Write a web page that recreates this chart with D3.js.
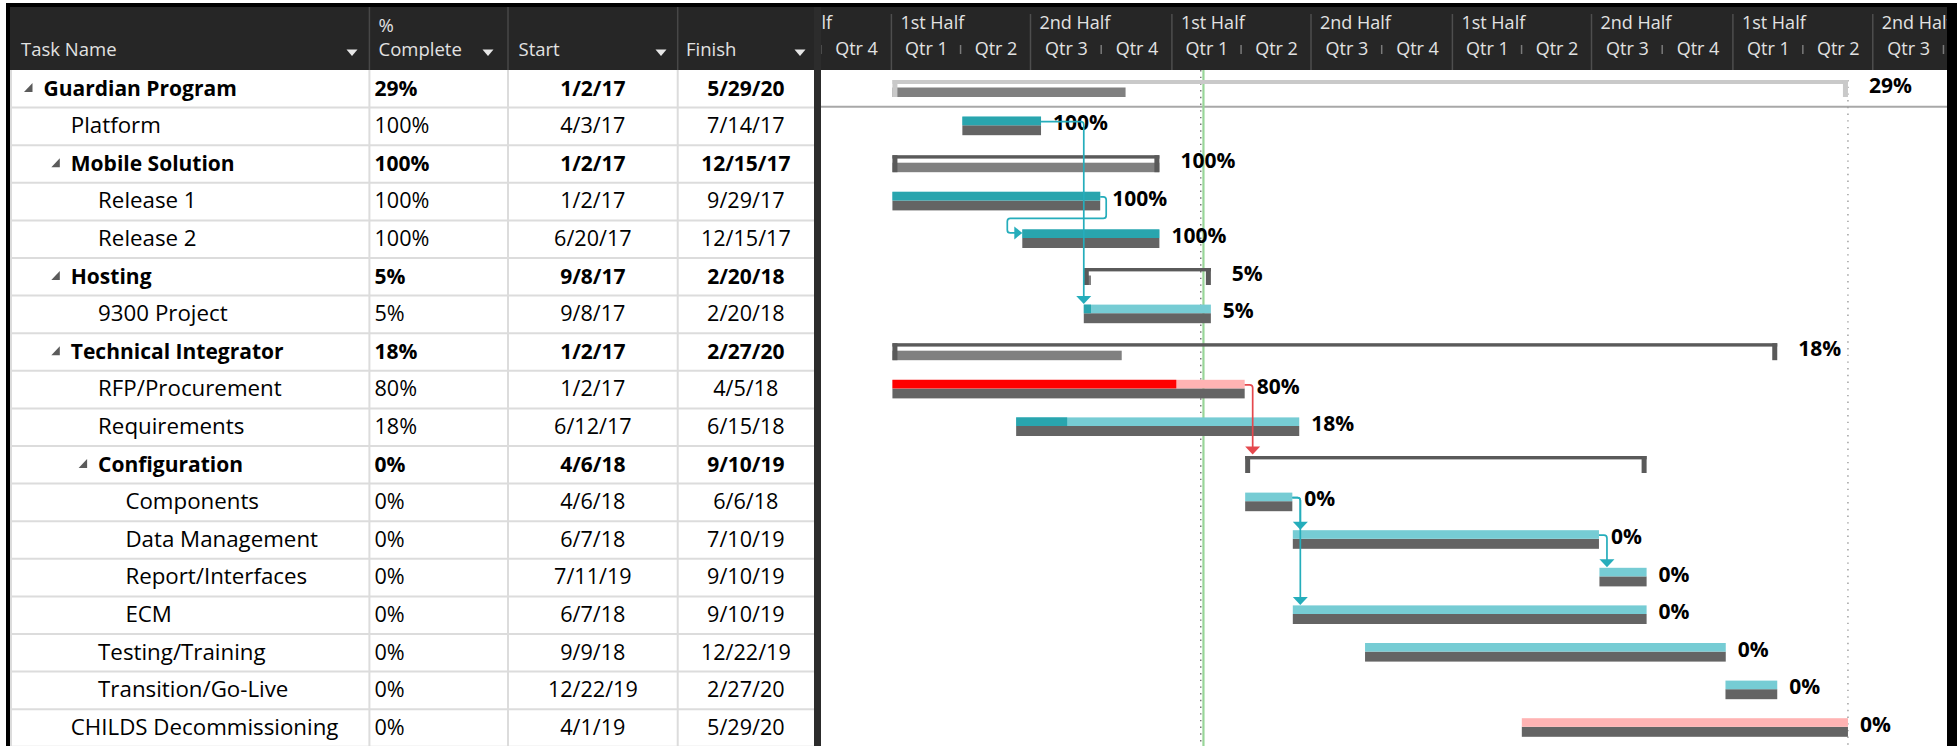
<!DOCTYPE html>
<html>
<head>
<meta charset="utf-8">
<script src="https://cdn.jsdelivr.net/npm/d3@7"></script>
<style>
  body { margin: 0; background: #fff; }
  svg { display: block; font-family: "Open Sans", sans-serif; }
</style>
</head>
<body>
<script>
    // task table
    var taskNames = ["Guardian Program", "Platform", "Mobile Solution", "Release 1", "Release 2",
        "Hosting", "9300 Project", "Technical Integrator", "RFP/Procurement", "Requirements",
        "Configuration", "Components", "Data Management", "Report/Interfaces", "ECM",
        "Testing/Training", "Transition/Go-Live", "CHILDS Decommissioning"];
    var taskLevels = [0, 1, 1, 2, 2, 1, 2, 1, 2, 2, 2, 3, 3, 3, 3, 2, 2, 1];
    var pctComplete = [29, 100, 100, 100, 100, 5, 5, 18, 80, 18, 0, 0, 0, 0, 0, 0, 0, 0];
    var startDates = ["1/2/17", "4/3/17", "1/2/17", "1/2/17", "6/20/17", "9/8/17", "9/8/17", "1/2/17",
        "1/2/17", "6/12/17", "4/6/18", "4/6/18", "6/7/18", "7/11/19", "6/7/18", "9/9/18", "12/22/19", "4/1/19"];
    var finishDates = ["5/29/20", "7/14/17", "12/15/17", "9/29/17", "12/15/17", "2/20/18", "2/20/18", "2/27/20",
        "4/5/18", "6/15/18", "9/10/19", "6/6/18", "7/10/19", "9/10/19", "9/10/19", "12/22/19", "2/27/20", "5/29/20"];
    // how far the progress bar reaches, null = not started
    var progressDates = ["11/1/17", "7/14/17", "12/15/17", "9/29/17", "12/15/17", "9/17/17", "9/17/17", "10/27/17",
        "1/6/18", "8/17/17", null, null, null, null, null, null, null, null];
    var criticalTasks = [8, 17];
    var links = [[1, 6], [3, 4], [8, 10], [11, 12], [11, 14], [12, 13]];
    var currentDate = "2/9/18";

    // timescale labels
    var halfLabels = ["1st Half", "2nd Half"];
    var quarterLabels = ["Qtr 1", "Qtr 2", "Qtr 3", "Qtr 4"];
    var columnTitles = [["Task Name"], ["%", "Complete"], ["Start"], ["Finish"]];

    var W = 1957, H = 746;
    var headerTop = 7, headerBottom = 70, rowH = 37.6;
    var colX = [10, 369.4, 508, 677.7, 814];
    var ganttLeft = 821, ganttRight = 1947;

    var parse = d3.timeParse("%m/%d/%y");
    var startOf = function(s) { return d3.timeHour.offset(parse(s), 8); };
    var endOf = function(s) { return d3.timeHour.offset(parse(s), 17); };
    var rowTop = function(i) { return headerBottom + i * rowH; };
    var isSummary = function(i) { return i + 1 < taskLevels.length && taskLevels[i + 1] > taskLevels[i]; };

    var x = d3.scaleTime()
        .domain([new Date(2017, 0, 1), new Date(2020, 0, 1)])
        .range([891.4, 1732.9]);

    var svg = d3.select("body").append("svg")
        .attr("width", W)
        .attr("height", H);

    // frame
    svg.append("rect").attr("x", 6).attr("y", 3).attr("width", W - 6).attr("height", H - 3).attr("fill", "#000");
    svg.append("rect").attr("x", 10).attr("y", headerTop).attr("width", ganttRight - 10).attr("height", H).attr("fill", "#fff");
    svg.append("rect").attr("x", 10).attr("y", headerTop).attr("width", ganttRight - 10)
        .attr("height", headerBottom - headerTop).attr("fill", "#262626");

    // ---------- table ----------
    var table = svg.append("g");

    // header column lines
    table.selectAll(".hsep")
        .data(colX.slice(1, 4))
        .enter().append("line")
        .attr("x1", function(d) { return d; })
        .attr("x2", function(d) { return d; })
        .attr("y1", headerTop)
        .attr("y2", headerBottom)
        .attr("stroke", "#474747")
        .attr("stroke-width", 1.5);

    var headX = [21, 378.5, 518.5, 686];
    var arrowX = [352, 488, 661, 800];
    columnTitles.forEach(function(lines, c) {
        lines.forEach(function(t, k) {
            table.append("text")
                .attr("x", headX[c])
                .attr("y", lines.length === 2 && k === 0 ? 31.5 : 56)
                .attr("font-size", 18.5)
                .attr("fill", "#e2e2e2")
                .text(t);
        });
        table.append("path")
            .attr("d", "M" + (arrowX[c] - 5.5) + ",49.5 h11 l-5.5,6.5 z")
            .attr("fill", "#e6e6e6");
    });

    // body grid
    table.selectAll(".rowline")
        .data(taskNames)
        .enter().append("line")
        .attr("x1", 10)
        .attr("x2", colX[4])
        .attr("y1", function(d, i) { return rowTop(i + 1); })
        .attr("y2", function(d, i) { return rowTop(i + 1); })
        .attr("stroke", "#dcdcdc")
        .attr("stroke-width", 2);

    table.selectAll(".colline")
        .data([11].concat(colX.slice(1, 4)))
        .enter().append("line")
        .attr("x1", function(d) { return d; })
        .attr("x2", function(d) { return d; })
        .attr("y1", headerBottom)
        .attr("y2", H)
        .attr("stroke", "#dcdcdc")
        .attr("stroke-width", 2);

    var rows = table.selectAll(".row")
        .data(taskNames)
        .enter().append("g")
        .attr("transform", function(d, i) { return "translate(0," + rowTop(i) + ")"; })
        .attr("font-size", function(d, i) { return isSummary(i) ? 21 : 21.6; })
        .attr("font-weight", function(d, i) { return isSummary(i) ? "bold" : "normal"; })
        .attr("fill", "#000");

    var nameX = function(i) { return 43.5 + 27.3 * taskLevels[i]; };

    rows.filter(function(d, i) { return isSummary(i); })
        .append("path")
        .attr("d", function(d) {
            var idx = taskNames.indexOf(d);
            var tx = nameX(idx) - 11;
            return "M" + tx + ",13 V22 H" + (tx - 8.5) + " Z";
        })
        .attr("fill", "#5b5b5b");

    rows.append("text")
        .attr("x", function(d, i) { return nameX(i); })
        .attr("y", 25.7)
        .attr("font-size", function(d, i) { return isSummary(i) ? 21 : 22.3; })
        .text(function(d) { return d; });

    rows.append("text")
        .attr("x", 374.5)
        .attr("y", 25.7)
        .text(function(d, i) { return pctComplete[i] + "%"; });

    rows.append("text")
        .attr("x", (colX[2] + colX[3]) / 2)
        .attr("y", 25.7)
        .attr("text-anchor", "middle")
        .text(function(d, i) { return startDates[i]; });

    rows.append("text")
        .attr("x", (colX[3] + colX[4]) / 2)
        .attr("y", 25.7)
        .attr("text-anchor", "middle")
        .text(function(d, i) { return finishDates[i]; });

    // divider between table and chart
    svg.append("rect").attr("x", colX[4]).attr("y", headerTop).attr("width", ganttLeft - colX[4])
        .attr("height", H).attr("fill", "#2c2c2c");

    // ---------- gantt ----------
    svg.append("clipPath").attr("id", "gclip")
        .append("rect").attr("x", ganttLeft).attr("y", headerTop)
        .attr("width", ganttRight - ganttLeft).attr("height", H);

    var g = svg.append("g").attr("clip-path", "url(#gclip)");

    var halves = d3.timeMonth.range(new Date(2016, 6, 1), new Date(2021, 0, 1), 6);
    var quarters = d3.timeMonth.range(new Date(2016, 9, 1), new Date(2021, 0, 1), 3);

    // separators
    g.selectAll(".qsep")
        .data(quarters)
        .enter().append("line")
        .attr("x1", function(d) { return x(d); })
        .attr("x2", function(d) { return x(d); })
        .attr("y1", function(d) { return d.getMonth() % 6 === 0 ? 14 : 45; })
        .attr("y2", function(d) { return d.getMonth() % 6 === 0 ? headerBottom : 54; })
        .attr("stroke", function(d) { return d.getMonth() % 6 === 0 ? "#4e4e4e" : "#7a7a7a"; })
        .attr("stroke-width", 1.5);

    g.selectAll(".half")
        .data(halves)
        .enter().append("text")
        .attr("x", function(d) { return x(d) < ganttLeft ? ganttLeft + 11 : x(d) + 9; })
        .attr("text-anchor", function(d) { return x(d) < ganttLeft ? "end" : "start"; })
        .attr("y", 28.5)
        .attr("font-size", 18)
        .attr("fill", "#e2e2e2")
        .text(function(d) { return halfLabels[d.getMonth() < 6 ? 0 : 1]; });

    var qMid = quarters.map(function(d) {
        return new Date((d.getTime() + d3.timeMonth.offset(d, 3).getTime()) / 2);
    });
    var qAxis = g.append("g")
        .attr("transform", "translate(0,55)")
        .call(d3.axisBottom(x)
            .tickValues(qMid)
            .tickSize(0)
            .tickFormat(function(d) { return quarterLabels[Math.floor(d.getMonth() / 3)]; }));
    qAxis.select(".domain").remove();
    qAxis.selectAll("text")
        .attr("y", 0)
        .attr("dy", null)
        .attr("font-family", "Open Sans, sans-serif")
        .attr("font-size", 18)
        .attr("fill", "#e2e2e2");

    // project summary row separator
    g.append("line")
        .attr("x1", ganttLeft).attr("x2", ganttRight)
        .attr("y1", rowTop(1) - 0.8).attr("y2", rowTop(1) - 0.8)
        .attr("stroke", "#a8a8a8").attr("stroke-width", 2);

    // current date line
    var cx = x(d3.timeHour.offset(parse(currentDate), 12));
    g.append("line")
        .attr("x1", cx + 1.2).attr("x2", cx + 1.2)
        .attr("y1", headerBottom).attr("y2", H)
        .attr("stroke", "#98d598").attr("stroke-width", 2.2);
    g.append("line")
        .attr("x1", cx - 1.5).attr("x2", cx - 1.5)
        .attr("y1", headerBottom).attr("y2", H)
        .attr("stroke", "#6f6f6f").attr("stroke-width", 1.4)
        .attr("stroke-dasharray", "1.4,5.3");

    // project finish line
    var px = x(endOf(finishDates[0]));
    g.append("line")
        .attr("x1", px).attr("x2", px)
        .attr("y1", rowTop(0) + 10).attr("y2", H)
        .attr("stroke", "#9a9a9a").attr("stroke-width", 1.4)
        .attr("stroke-dasharray", "1.4,5.3");

    // bars
    var bars = g.selectAll(".bar")
        .data(taskNames)
        .enter().append("g")
        .attr("transform", function(d, i) { return "translate(0," + rowTop(i) + ")"; });

    bars.each(function(d, i) {
        var b = d3.select(this);
        var s = x(startOf(startDates[i])), f = x(endOf(finishDates[i]));
        var p = progressDates[i] ? x(endOf(progressDates[i])) : s;
        var crit = criticalTasks.indexOf(i) >= 0;
        if (isSummary(i)) {
            var outline = taskLevels[i] === 0 ? "#c9c9c9" : "#5a5a5a";
            var lineH = taskLevels[i] === 0 ? 4 : 3.4;
            if (p > s) {
                b.append("rect").attr("x", s).attr("y", 17.5).attr("width", p - s).attr("height", 9.5)
                    .attr("fill", "#808080");
            }
            b.append("rect").attr("x", s).attr("y", 10).attr("width", f - s).attr("height", lineH).attr("fill", outline);
            b.append("rect").attr("x", s).attr("y", 10).attr("width", 5).attr("height", 17).attr("fill", outline);
            b.append("rect").attr("x", f - 5).attr("y", 10).attr("width", 5).attr("height", 17).attr("fill", outline);
        } else {
            b.append("rect").attr("x", s).attr("y", 17.6).attr("width", f - s).attr("height", 10)
                .attr("fill", "#646464");
            b.append("rect").attr("x", s).attr("y", 9).attr("width", f - s).attr("height", 8.6)
                .attr("fill", crit ? "#ffb3b3" : "#76ccd4");
            if (p > s) {
                b.append("rect").attr("x", s).attr("y", 9).attr("width", p - s).attr("height", 8.6)
                    .attr("fill", crit ? "#ff0000" : "#29a5ae");
            }
        }
    });

    // links
    links.forEach(function(l) {
        var a = l[0], t = l[1];
        var col = criticalTasks.indexOf(a) >= 0 ? "#e5484d" : "#25adbb";
        var pe = x(endOf(finishDates[a])), sb = x(startOf(startDates[t]));
        var y0 = rowTop(a) + 14;
        var path, arrow;
        if (sb >= pe - 1) {
            var xv = Math.max(pe + 8, sb);
            var tip = rowTop(t) + 8.5;
            path = "M" + pe + "," + y0 + " H" + (xv - 3) + " Q" + xv + "," + y0 + " " + xv + "," + (y0 + 3) +
                " V" + (tip - 7);
            arrow = "M" + (xv - 7.5) + "," + (tip - 8) + " L" + (xv + 7.5) + "," + (tip - 8) + " L" + xv + "," + tip + " Z";
        } else {
            var xr = pe + 6, ym = rowTop(t) - 2, xl = sb - 15, yb = rowTop(t) + 12.5;
            path = "M" + pe + "," + y0 + " H" + (xr - 3) + " Q" + xr + "," + y0 + " " + xr + "," + (y0 + 3) +
                " V" + (ym - 3) + " Q" + xr + "," + ym + " " + (xr - 3) + "," + ym +
                " H" + (xl + 3) + " Q" + xl + "," + ym + " " + xl + "," + (ym + 3) +
                " V" + (yb - 3) + " Q" + xl + "," + yb + " " + (xl + 3) + "," + yb + " H" + (sb - 7);
            arrow = "M" + (sb - 8) + "," + (yb - 6.5) + " L" + (sb - 8) + "," + (yb + 6.5) + " L" + sb + "," + yb + " Z";
        }
        g.append("path").attr("d", path).attr("fill", "none").attr("stroke", col).attr("stroke-width", 1.7);
        g.append("path").attr("d", arrow).attr("fill", col);
    });

    // percent labels (not shown on summaries that have not started)
    bars.filter(function(d, i) { return !(isSummary(i) && pctComplete[i] === 0); })
        .append("text")
        .attr("x", function(d) {
            var i = taskNames.indexOf(d);
            return x(endOf(finishDates[i])) + (isSummary(i) ? 21 : 12);
        })
        .attr("y", 22.8)
        .attr("font-size", 21)
        .attr("font-weight", "bold")
        .attr("fill", "#000")
        .text(function(d) { return pctComplete[taskNames.indexOf(d)] + "%"; });
</script>
</body>
</html>
